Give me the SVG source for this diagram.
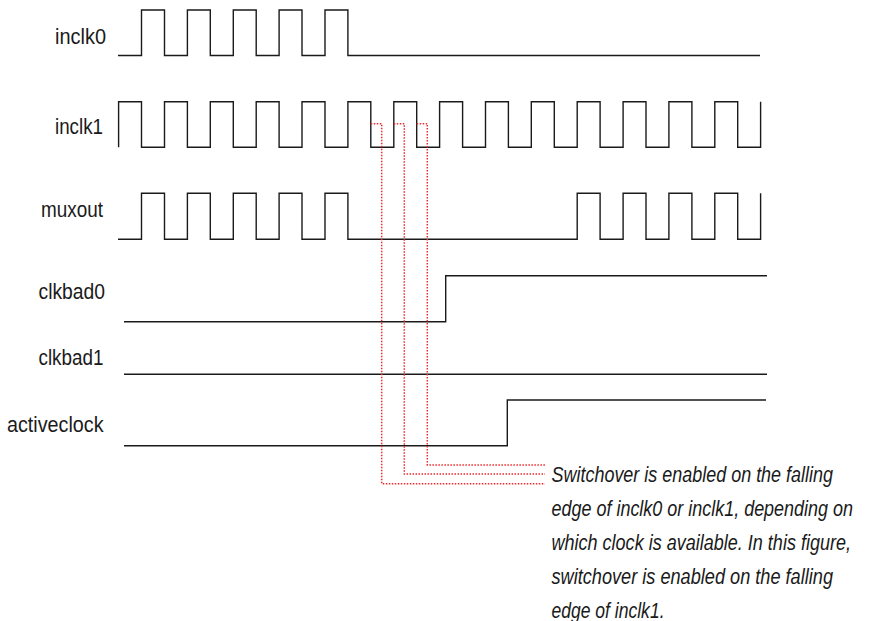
<svg xmlns="http://www.w3.org/2000/svg" width="869" height="621" viewBox="0 0 869 621">
<style>
  .bg { fill: #ffffff; }
  .wave { fill: none; stroke: #1a1a1a; stroke-width: 1.4; stroke-linejoin: miter; }
  .lbl { font-family: "Liberation Sans Narrow", "Liberation Sans", "DejaVu Sans Condensed", sans-serif; font-size: 22px; fill: #1a1a1a; }
  .note { font-family: "Liberation Sans Narrow", "Liberation Sans", "DejaVu Sans Condensed", sans-serif; font-size: 17.5px; font-style: italic; fill: #1a1a1a; }
  .dot { fill: none; stroke: #ee2b2b; stroke-width: 1.5; stroke-dasharray: 1.5 1.5; }
</style>
<rect class="bg" x="0" y="0" width="869" height="621"/>

<g id="inclk0">
  <text class="lbl" x="55" y="44" textLength="51" lengthAdjust="spacingAndGlyphs">inclk0</text>
  <path class="wave" d="M118,55.5 H141.5 V10 H164.5 V55.5 H187.4 V10 H210.3 V55.5 H233.3 V10 H256.2 V55.5 H279.1 V10 H302 V55.5 H325 V10 H347.9 V55.5 H760"/>
</g>

<g id="inclk1">
  <text class="lbl" x="55" y="134" textLength="48" lengthAdjust="spacingAndGlyphs">inclk1</text>
  <path class="wave" d="M118.6,147.3 V101.7 H141.5 V147.3 H164.5 V101.7 H187.4 V147.3 H210.3 V101.7 H233.3 V147.3 H256.2 V101.7 H279.1 V147.3 H302 V101.7 H325 V147.3 H347.9 V101.7 H370.8 V147.3 H393.8 V101.7 H416.7 V147.3 H439.6 V101.7 H462.6 V147.3 H485.5 V101.7 H508.4 V147.3 H531.3 V101.7 H554.3 V147.3 H577.2 V101.7 H600.1 V147.3 H623.1 V101.7 H646 V147.3 H668.9 V101.7 H691.9 V147.3 H714.8 V101.7 H737.7 V147.3 H760.6 V101.7"/>
</g>

<g id="muxout">
  <text class="lbl" x="41" y="217" textLength="62" lengthAdjust="spacingAndGlyphs">muxout</text>
  <path class="wave" d="M118,239.3 H141.5 V193.3 H164.5 V239.3 H187.4 V193.3 H210.3 V239.3 H233.3 V193.3 H256.2 V239.3 H279.1 V193.3 H302 V239.3 H325 V193.3 H347.9 V239.3 H577.2 V193.3 H600.1 V239.3 H623.1 V193.3 H646 V239.3 H668.9 V193.3 H691.9 V239.3 H714.8 V193.3 H737.7 V239.3 H760.6 V193.3"/>
</g>

<g id="clkbad0">
  <text class="lbl" x="38.5" y="299" textLength="66.5" lengthAdjust="spacingAndGlyphs">clkbad0</text>
  <path class="wave" d="M124,321.7 H445.7 V275.7 H767"/>
</g>

<g id="clkbad1">
  <text class="lbl" x="38.5" y="365" textLength="65" lengthAdjust="spacingAndGlyphs">clkbad1</text>
  <path class="wave" d="M124,374.3 H767"/>
</g>

<g id="activeclock">
  <text class="lbl" x="7" y="432" textLength="96.5" lengthAdjust="spacingAndGlyphs">activeclock</text>
  <path class="wave" d="M124,445.7 H507.3 V400 H766"/>
</g>

<g id="note">
  <text class="note" transform="translate(551.5 481.5) scale(1 1.25)" x="0" y="0" textLength="281.5" lengthAdjust="spacingAndGlyphs">Switchover is enabled on the falling</text>
  <text class="note" transform="translate(551.5 515.5) scale(1 1.25)" x="0" y="0" textLength="301.5" lengthAdjust="spacingAndGlyphs">edge of inclk0 or inclk1, depending on</text>
  <text class="note" transform="translate(551.5 549.5) scale(1 1.25)" x="0" y="0" textLength="299.5" lengthAdjust="spacingAndGlyphs">which clock is available. In this figure,</text>
  <text class="note" transform="translate(551.5 583.5) scale(1 1.25)" x="0" y="0" textLength="281.5" lengthAdjust="spacingAndGlyphs">switchover is enabled on the falling</text>
  <text class="note" transform="translate(551.5 617.5) scale(1 1.25)" x="0" y="0" textLength="113" lengthAdjust="spacingAndGlyphs">edge of inclk1.</text>
</g>

<g id="connectors">
  <path class="dot" d="M370.8,123.7 H381.7 V483.7 H545"/>
  <path class="dot" d="M393.8,123.7 H404.3 V474 H545"/>
  <path class="dot" d="M416.7,123.7 H427.3 V465 H545"/>
</g>
</svg>
